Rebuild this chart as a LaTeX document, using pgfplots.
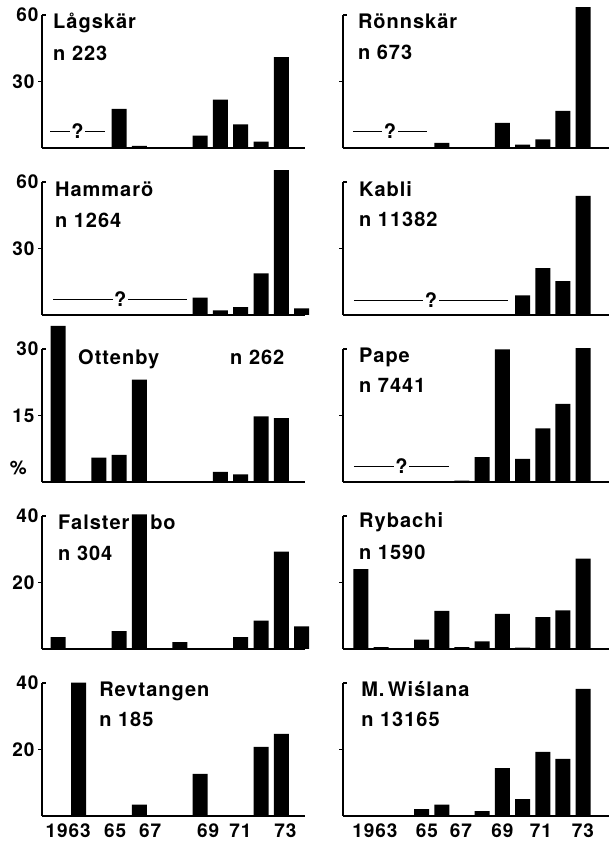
\documentclass[border=0pt]{standalone}
\usepackage{pgfplots}
\pgfplotsset{compat=1.18}
\usepackage{fontspec}
\setmainfont{TeX Gyre Heros}
\newfontfamily\labf[LetterSpace=5]{TeX Gyre Heros}
\newcommand{\lab}{\fontsize{20}{24}\selectfont\labf\bfseries}
\newcommand{\tkf}{\fontsize{19}{22}\selectfont\labf\bfseries}
\tikzset{
  qmark/.style={pos=0.5, fill=white, inner sep=1.5pt, font=\lab},
  nm/.style={anchor=base west, inner sep=0pt, font=\lab},
}
\pgfplotsset{
  panel/.style={
    scale only axis, height=133pt, ymin=0, clip=false,
    axis x line*=bottom, axis y line*=left,
    axis line style={line width=1.4pt},
    every tick/.style={line width=1.2pt, black},
    major tick length=4pt,
    tick align=outside,
    ybar, bar width=15pt,
    xtick=\empty,
    /pgf/number format/assume math mode=true,
    tick label style={font=\tkf},
    extra y tick style={tick align=inside},
  },
  leftcol/.style={panel, width=263pt, xmin=1961.2, xmax=1974.17},
  rightcol/.style={panel, width=266pt, xmin=1961.11, xmax=1974.28, yticklabels={}, extra y tick labels={}},
  bars/.style={fill=black, draw=none},
  qline/.style={sharp plot, draw=black, fill=none, line width=1.4pt, mark=none, forget plot},
}
\begin{document}
\begin{tikzpicture}
\useasboundingbox (0,0) rectangle (609pt,847pt);
% ---------------- Row 1
\begin{axis}[leftcol, at={(42pt,699pt)}, anchor=south west, ymax=60, ytick={30}, extra y ticks={60}]
\addplot[bars] coordinates {(1965,17.7) (1966,1.0) (1969,5.6) (1970,21.8) (1971,10.7) (1972,2.9) (1973,41.0)};
\addplot[qline] coordinates {(1961.6,7.5) (1964.3,7.5)} node[qmark] {?};
\node[nm] at (rel axis cs:0.042,0.90) {Lågskär};
\node[nm] at (rel axis cs:0.042,0.655) {n 223};
\end{axis}
\begin{axis}[rightcol, at={(343pt,699pt)}, anchor=south west, ymax=60, ytick={30}, extra y ticks={60}]
\addplot[bars] coordinates {(1966,2.3) (1969,11.3) (1970,1.5) (1971,3.9) (1972,16.7) (1973,63.6)};
\addplot[qline] coordinates {(1961.6,7.5) (1965.27,7.5)} node[qmark] {?};
\node[nm] at (rel axis cs:0.056,0.90) {Rönnskär};
\node[nm] at (rel axis cs:0.056,0.665) {n 673};
\end{axis}
% ---------------- Row 2
\begin{axis}[leftcol, at={(42pt,532pt)}, anchor=south west, ymax=60, ytick={30}, extra y ticks={60}]
\addplot[bars] coordinates {(1969,7.8) (1970,2.1) (1971,3.6) (1972,18.8) (1973,65.4) (1974,3.0)};
\addplot[qline] coordinates {(1961.75,7.1) (1968.36,7.1)} node[qmark] {?};
\node[nm] at (rel axis cs:0.049,0.89) {Hammarö};
\node[nm] at (rel axis cs:0.049,0.656) {n 1264};
\end{axis}
\begin{axis}[rightcol, at={(343pt,532pt)}, anchor=south west, ymax=60, ytick={30}, extra y ticks={60}]
\addplot[bars] coordinates {(1970,8.9) (1971,21.1) (1972,15.3) (1973,53.7)};
\addplot[qline] coordinates {(1961.65,6.6) (1969.28,6.6)} node[qmark] {?};
\node[nm] at (rel axis cs:0.06,0.89) {Kabli};
\node[nm] at (rel axis cs:0.06,0.665) {n 11382};
\end{axis}
% ---------------- Row 3
\begin{axis}[leftcol, at={(42pt,365pt)}, anchor=south west, ymax=30, ytick={15}, extra y ticks={30}]
\addplot[bars] coordinates {(1962,35.2) (1964,5.5) (1965,6.1) (1966,23.1) (1970,2.3) (1971,1.7) (1972,14.8) (1973,14.4)};
\node[nm] at (rel axis cs:0.137,0.886) {Ottenby};
\node[nm] at (rel axis cs:0.715,0.886) {n 262};
\node[anchor=base east, inner sep=0pt, font=\tkf] at (rel axis cs:0,0.0) [xshift=-15pt, yshift=7pt] {\%};
\end{axis}
\begin{axis}[rightcol, at={(343pt,365pt)}, anchor=south west, ymax=30, ytick={15}, extra y ticks={30}]
\addplot[bars] coordinates {(1967,0.3) (1968,5.6) (1969,29.9) (1970,5.2) (1971,12.1) (1972,17.6) (1973,30.2)};
\addplot[qline] coordinates {(1961.65,3.5) (1966.36,3.5)} node[qmark] {?};
\node[nm] at (rel axis cs:0.06,0.90) {Pape};
\node[nm] at (rel axis cs:0.06,0.67) {n 7441};
\end{axis}
% ---------------- Row 4
\begin{axis}[leftcol, at={(42pt,198pt)}, anchor=south west, ymax=40, ytick={20}, extra y ticks={40}]
\addplot[bars] coordinates {(1962,3.6) (1965,5.4) (1966,40.5) (1968,2.1) (1971,3.6) (1972,8.5) (1973,29.3) (1974,6.8)};
\node[nm] at (rel axis cs:0.061,0.896) {Falster};
\node[nm] at (rel axis cs:0.411,0.896) {bo};
\node[nm] at (rel axis cs:0.061,0.667) {n 304};
\end{axis}
\begin{axis}[rightcol, at={(343pt,198pt)}, anchor=south west, ymax=40, ytick={20}, extra y ticks={40}]
\addplot[bars] coordinates {(1962,24.0) (1963,0.6) (1964,0.3) (1965,2.8) (1966,11.5) (1967,0.6) (1968,2.3) (1969,10.6) (1970,0.4) (1971,9.6) (1972,11.6) (1973,27.2)};
\node[nm] at (rel axis cs:0.06,0.91) {Rybachi};
\node[nm] at (rel axis cs:0.06,0.67) {n 1590};
\end{axis}
% ---------------- Row 5
\begin{axis}[leftcol, at={(42pt,31pt)}, anchor=south west, ymax=40, ytick={20}, extra y ticks={40},
  xtick={1962.49,1964.81,1966.54,1969.40,1970.98,1973.20}, xticklabels={1963,65,67,69,71,73},
  xtick style={draw=none}]
\addplot[bars] coordinates {(1963,40.1) (1966,3.4) (1969,12.7) (1972,20.8) (1973,24.7)};
\node[nm] at (rel axis cs:0.217,0.895) {Revtangen};
\node[nm] at (rel axis cs:0.217,0.67) {n 185};
\end{axis}
\begin{axis}[rightcol, at={(343pt,31pt)}, anchor=south west, ymax=40, ytick={20}, extra y ticks={40},
  xtick={1962.69,1965.27,1966.95,1969.0,1970.91,1972.99}, xticklabels={1963,65,67,69,71,73},
  xtick style={draw=none}]
\addplot[bars] coordinates {(1965,2.1) (1966,3.4) (1968,1.5) (1969,14.4) (1970,5.1) (1971,19.3) (1972,17.2) (1973,38.2)};
\node[nm] at (rel axis cs:0.068,0.895) {M.\,Wiślana};
\node[nm] at (rel axis cs:0.068,0.67) {n 13165};
\end{axis}
\end{tikzpicture}
\end{document}
